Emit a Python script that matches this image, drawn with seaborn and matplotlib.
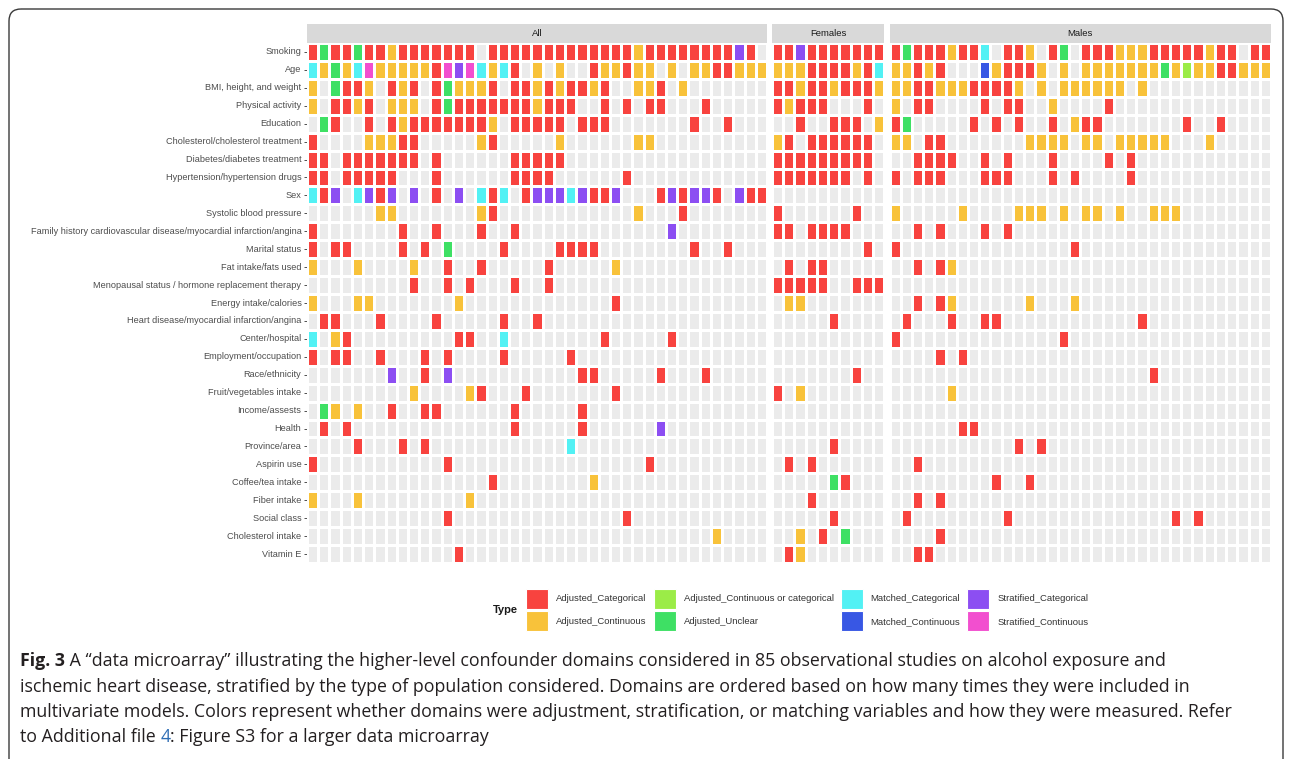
import numpy as np
import pandas as pd
import matplotlib
matplotlib.use("Agg")
import matplotlib.pyplot as plt
import seaborn as sns
from matplotlib.colors import ListedColormap
from matplotlib.patches import Patch, FancyBboxPatch

# ---------------- data ----------------
domains = [
    "Smoking", "Age", "BMI, height, and weight", "Physical activity", "Education",
    "Cholesterol/cholesterol treatment", "Diabetes/diabetes treatment",
    "Hypertension/hypertension drugs", "Sex", "Systolic blood pressure",
    "Family history cardiovascular disease/myocardial infarction/angina",
    "Marital status", "Fat intake/fats used",
    "Menopausal status / hormone replacement therapy", "Energy intake/calories",
    "Heart disease/myocardial infarction/angina", "Center/hospital",
    "Employment/occupation", "Race/ethnicity", "Fruit/vegetables intake",
    "Income/assests", "Health", "Province/area", "Aspirin use",
    "Coffee/tea intake", "Fiber intake", "Social class", "Cholesterol intake",
    "Vitamin E",
]

panels = ["All", "Females", "Males"]

# cell codes: '.' none, R Adjusted_Categorical, O Adjusted_Continuous,
# Y Adjusted_Continuous or categorical, G Adjusted_Unclear, C Matched_Categorical,
# B Matched_Continuous, P Stratified_Categorical, K Stratified_Continuous
type_codes = [".", "R", "O", "Y", "G", "C", "B", "P", "K"]
type_labels = [
    "Adjusted_Categorical", "Adjusted_Continuous",
    "Adjusted_Continuous or categorical", "Adjusted_Unclear",
    "Matched_Categorical", "Matched_Continuous",
    "Stratified_Categorical", "Stratified_Continuous",
]
type_colors = ["#F8433F", "#F8C23A", "#9BEC47", "#3EE064",
               "#52F1F4", "#3857E4", "#8C4EF2", "#F24FCF"]
empty_color = "#EBEBEB"

all_rows = [
    "RGRRGRRORR RRRRR.RRRR RRRRRRRRRO RRRRRRRRPR .",
    "COGOCKOOOO ORKPKCOCR. O.O..ROORO O.O.OORROO O",
    "O.GRRO.ROR .RGOOOR.RR ORORROR..O OR.O...... .",
    "O.RROR.OOO .RGRRRRRRR ORRR..R.R. RR...R.... .",
    ".GR..R.ROR RRRRRRO.RR RRR.RRR... ....R..R.. .",
    "R....OOORR .....OR... ..O......O O......... .",
    "RR.RRRRRRR .R......RR RRR....... .......... .",
    "RR.RRRRR.. .R......RR RR......R. .......... .",
    "CRP.CPRP.P .R.P.CRC.R PPPCPRRP.. .RPRPPR.PR R",
    "......OO.. .....OR... .........O ...R...... .",
    "R.......R. .R...R..R. .......... ..P....... .",
    "R.RR....R. R.G....R.. ..RRRR.... ....R..R.. .",
    "O...O....O ..R..R.... .R.....O.. .......... .",
    ".........R ..R.R...R. .R........ .......... .",
    "O...OO.... ...O...... .......R.. .......... .",
    ".RR...R... .R.....R.. R......... .......... .",
    "C.OR...... ...RR..C.. ......R... ..R....... .",
    "R.RR..R... R.R....R.. ...R...... .......... .",
    ".......P.. R.P....... ....RR.... .R...R.... .",
    ".........O ....OR...R .......R.. .......... .",
    ".GO.O..R.. RR......R. ....R..... .......... .",
    ".R.R...... ........R. ....R..... .P........ .",
    "....R...R. R......... ...C...... .......... .",
    "R......... ..R....... .......... R......... .",
    ".......... ......R... .....O.... .......... .",
    "O...O..... ....O..... .......... .......... .",
    ".......... ..R....... ........R. .......... .",
    ".......... .......... .......... ......O... .",
    ".......... ...R...... .......... .......... .",
]

female_rows = [
    "RRPRRRRRRR", "OOORRRRORC", "RRORRORRRO", "RORRR...R.", "..R..RRR.O",
    "OR.RRRRRR.", "RRRRRRRRR.", "RRRRRRR.R.", "..........", "R......R..",
    "RR.RRRR...", "........R.", ".R.RR.....", "RRRRR..RRR", ".OO.......",
    ".....R....", "..........", "..........", ".......R..", "R.O.......",
    "..........", "..........", ".....R....", ".R.R......", ".....GR...",
    "...R......", ".....R....", "..O.R.G...", ".RO.......",
]

male_rows = [
    "RGRRRORRC. RRO.RG.RRR OOORRRRROR R.RR",
    "OOROR...BO RRRO.O.OOO OOOOGOYOOR ROOO",
    "OORROOORRR RO.O.OOOOO O.O....... ....",
    "O.RR....R. RR..O....R .......... ....",
    "RG.....R.R .R..R.ORR. ......R..R ....",
    "OO.RR..... ..OOOO.OO. OOOOO...O. ....",
    "..RRRR..R. R...R....R .R........ ....",
    "R.RRR...RR R...R.R... .R........ ....",
    ".......... .......... .......... ....",
    "O.....O... .OOO.O.OO. O..OOO.... ....",
    "..R.R...R. R......... .......... ....",
    "R......... ......R... .......... ....",
    "..R.RO.... .......... .......... ....",
    ".......... .......... .......... ....",
    "..R.RO.... ..O...O... .......... ....",
    ".R...R..RR .......... ..R....... ....",
    "R......... .....R.... .......... ....",
    "....R.R... .......... .......... ....",
    ".......... .......... ...R...... ....",
    ".....O.... .......... .......... ....",
    ".......... .......... .......... ....",
    "......RR.. .......... .......... ....",
    ".......... .R.R...... .......... ....",
    "..R....... .......... .......... ....",
    ".........R ..R....... .......... ....",
    "..R.R..... .......... .......... ....",
    ".R........ R......... .....R.R.. ....",
    "....R..... .......... .......... ....",
    "..RR...... .......... .......... ....",
]

panel_rows = {"All": all_rows, "Females": female_rows, "Males": male_rows}

caption_lines = [
    [("Fig. 3", "bold", "#231F20"),
     (" A \u201cdata microarray\u201d illustrating the higher-level confounder domains considered in 85 observational studies on alcohol exposure and", "normal", "#231F20")],
    [("ischemic heart disease, stratified by the type of population considered. Domains are ordered based on how many times they were included in", "normal", "#231F20")],
    [("multivariate models. Colors represent whether domains were adjustment, stratification, or matching variables and how they were measured. Refer", "normal", "#231F20")],
    [("to Additional file ", "normal", "#231F20"), ("4", "normal", "#2E6DB4"),
     (": Figure S3 for a larger data microarray", "normal", "#231F20")],
]

# ---------------- style ----------------
sns.set_theme(style="white")
plt.rcParams["font.family"] = ["Liberation Sans", "DejaVu Sans"]

W, H = 1290, 759
fig = plt.figure(figsize=(W / 100, H / 100), dpi=100)

# background axes in pixel coordinates for frame and caption
bg = fig.add_axes([0, 0, 1, 1], zorder=-5)
bg.set_xlim(0, W)
bg.set_ylim(H, 0)
bg.axis("off")
bg.add_patch(FancyBboxPatch((9, 9), 1274, 780, boxstyle="round,pad=0,rounding_size=12",
                            fill=False, ec="#3A3A3A", lw=1.0))

cmap = ListedColormap([empty_color] + type_colors)
code_index = {c: i for i, c in enumerate(type_codes)}

pitch = 11.22
panel_left = {"All": 307.0, "Females": 772.0, "Males": 889.5}
top_px, bot_px = 43.0, 563.0
strip_top = 24.0

for name in panels:
    rows = [r.replace(" ", "") for r in panel_rows[name]]
    ncol = len(rows[0])
    assert all(len(r) == ncol for r in rows), name
    mat = np.array([[code_index[c] for c in r] for r in rows])
    df = pd.DataFrame(mat, index=domains)
    left = panel_left[name]
    width = ncol * pitch
    ax = fig.add_axes([left / W, 1 - bot_px / H, width / W, (bot_px - top_px) / H])
    sns.heatmap(df, ax=ax, cmap=cmap, vmin=-0.5, vmax=len(type_codes) - 0.5,
                cbar=False, linewidths=0.9, linecolor="white",
                xticklabels=False, yticklabels=(name == "All"))
    ax.set_xlabel("")
    ax.set_ylabel("")
    if name == "All":
        ax.tick_params(axis="y", length=2.5, width=0.6, color="#333333",
                       labelsize=6.6, labelcolor="#4D4D4D", pad=1.5, left=True)
        plt.setp(ax.get_yticklabels(), rotation=0)
    else:
        ax.set_yticks([])
    # facet strip
    sax = fig.add_axes([left / W, 1 - top_px / H, width / W, (top_px - strip_top) / H])
    sax.set_facecolor("#D9D9D9")
    sax.set_xticks([])
    sax.set_yticks([])
    for s in sax.spines.values():
        s.set_visible(False)
    sax.text(0.5, 0.5, name, ha="center", va="center", fontsize=6.8, color="#1A1A1A",
             transform=sax.transAxes)

# legend
handles = [Patch(facecolor=c, edgecolor="white", linewidth=0.8, label=l)
           for c, l in zip(type_colors, type_labels)]
fig.legend(handles=handles, loc="center left", bbox_to_anchor=(526 / W, 1 - 610 / H),
           ncol=4, frameon=False, fontsize=6.8, handlelength=2.33, handleheight=2.88,
           handletextpad=0.85, columnspacing=0.74, labelspacing=0.3,
           borderpad=0, borderaxespad=0, labelcolor="#333333")
fig.text(493 / W, 1 - 610 / H, "Type", ha="left", va="center", fontsize=8.0,
         fontweight="bold", color="#1A1A1A")

# caption
renderer = fig.canvas.get_renderer()
baselines = [666, 691.5, 717, 742]
for line, yb in zip(caption_lines, baselines):
    x = 20.0
    for txt, weight, col in line:
        t = bg.text(x, yb, txt, fontsize=12.8, fontweight=weight, color=col,
                    ha="left", va="baseline", family=["Open Sans", "DejaVu Sans"])
        bb = t.get_window_extent(renderer=renderer)
        x += bb.width

fig.savefig("out.png", dpi=100)
